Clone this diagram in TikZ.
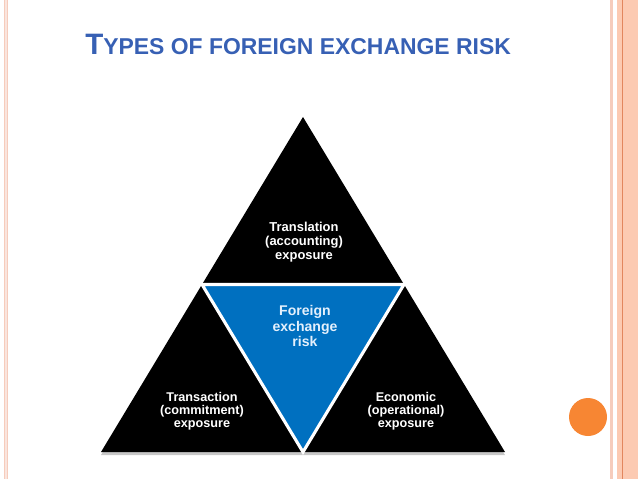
\documentclass[tikz,border=0pt]{standalone}
\usepackage{fontspec}
\setmainfont{Liberation Sans}
\usepackage{tikz}
\usetikzlibrary{calc}
\definecolor{titleblue}{RGB}{55,96,180}
\definecolor{riskblue}{RGB}{0,112,192}
\definecolor{risktext}{RGB}{228,240,252}
\definecolor{edgepink}{RGB}{246,204,188}
\definecolor{bandpink}{RGB}{252,202,178}
\definecolor{bandline}{RGB}{226,134,94}
\definecolor{dotorange}{RGB}{247,134,51}

\begin{document}
\begin{tikzpicture}[
  x=0.025cm, y=-0.025cm,
  label/.style={align=center, text=white, font=\bfseries\fontsize{9}{9.4}\selectfont},
  core/.style={align=center, text=risktext, font=\bfseries\fontsize{10}{10.7}\selectfont},
  gap/.style={draw=white, line width=2.2pt, line join=miter},
  shade/.style={fill=black!22}
]
\useasboundingbox (0,0) rectangle (638,479);

% slide frame
\fill[edgepink!50] (3.5,0) rectangle (7.5,479);
\draw[edgepink, line width=0.6pt] (4,0) -- (4,479);
\draw[edgepink, line width=0.6pt] (7,0) -- (7,479);
\fill[edgepink] (610,0) rectangle (612.5,479);
\fill[bandpink] (617,0) rectangle (638,479);
\draw[bandline, line width=0.6pt] (622,0) -- (622,479);
\node[circle, fill=dotorange, minimum size=38*0.025cm, inner sep=0pt] (dot) at (588,417) {};

\node[anchor=base west, text=titleblue, font=\bfseries\fontsize{21}{22}\selectfont, inner sep=0pt] (title) at (85,55)
  {T{\fontsize{16.3}{17}\selectfont YPES OF FOREIGN EXCHANGE RISK}};

\coordinate (apex) at (303,117);
\coordinate (bl) at (101,452);
\coordinate (br) at (505,452);
\coordinate (ml) at ($(apex)!0.5!(bl)$);
\coordinate (mr) at ($(apex)!0.5!(br)$);
\coordinate (mb) at ($(bl)!0.5!(br)$);

\fill[shade] ($(apex)+(0,3)$) -- ($(bl)+(0,3)$) -- ($(br)+(0,3)$) -- cycle;
\fill[black] (apex) -- (bl) -- (br) -- cycle;
\fill[riskblue] (ml) -- (mr) -- (mb) -- cycle;
\draw[gap] (ml) -- (mr) -- (mb) -- cycle;

\node[label, font=\bfseries\fontsize{9.2}{10}\selectfont] (translation) at (304,242) {Translation\\(accounting)\\exposure};
\node[core] (risk) at (305,326) {Foreign\\exchange\\risk};
\node[label] (transaction) at (202,411) {Transaction\\(commitment)\\exposure};
\node[label] (economic) at (406,411) {Economic\\(operational)\\exposure};
\end{tikzpicture}
\end{document}
